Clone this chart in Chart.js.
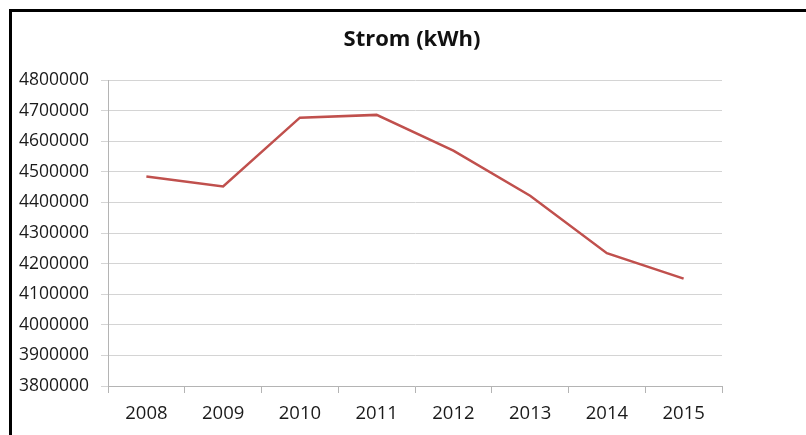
<!DOCTYPE html>
<html>
<head>
<meta charset="utf-8">
<script src="https://cdn.jsdelivr.net/npm/chart.js@4/dist/chart.umd.min.js"></script>
<style>
  html, body { margin: 0; padding: 0; background: #fff; }
  #wrap { position: relative; width: 806px; height: 435px; overflow: hidden; }
  #frame {
    position: absolute; left: 9px; top: 9px; width: 900px; height: 500px;
    border-top: 3px solid #000; border-left: 3px solid #000;
    pointer-events: none;
  }
</style>
</head>
<body>
<div id="wrap">
  <canvas id="chart" width="806" height="435"></canvas>
  <div id="frame"></div>
</div>
<script>
const years = ["2008", "2009", "2010", "2011", "2012", "2013", "2014", "2015"];
const strom = [4485000, 4452000, 4677000, 4686000, 4569000, 4422000, 4234000, 4151000];
const yMin = 3800000;
const yMax = 4800000;
const yStep = 100000;

const FONT = "'Open Sans', 'DejaVu Sans', sans-serif";

new Chart(document.getElementById("chart"), {
  type: "line",
  data: {
    labels: years,
    datasets: [{
      label: "Strom (kWh)",
      data: strom,
      borderColor: "#C0504D",
      backgroundColor: "#C0504D",
      borderWidth: 2.5,
      tension: 0,
      pointRadius: 0,
      fill: false,
    }],
  },
  options: {
    responsive: false,
    animation: false,
    devicePixelRatio: 1,
    layout: { padding: { left: 18, right: 0, top: 0, bottom: 0 } },
    plugins: {
      legend: { display: false },
      tooltip: { enabled: false },
      title: {
        display: true,
        text: "Strom (kWh)",
        color: "#111",
        font: { family: FONT, size: 22, weight: "bold" },
        padding: { top: 27, bottom: 26.6 },
      },
    },
    scales: {
      x: {
        offset: true,
        grid: {
          offset: true,
          drawOnChartArea: false,
          tickLength: 7,
          color: "#b4b4b4",
        },
        border: { display: true, color: "#b4b4b4" },
        ticks: {
          color: "#1a1a1a",
          padding: 10,
          maxRotation: 0,
          font: { family: FONT, size: 18.5 },
        },
        afterFit(scale) { scale.height = 49; },
      },
      y: {
        min: yMin,
        max: yMax,
        grid: { color: "#d4d4d4", tickLength: 7 },
        border: { display: true, color: "#b4b4b4" },
        ticks: {
          stepSize: yStep,
          color: "#1a1a1a",
          padding: 12,
          font: { family: FONT, size: 17.5 },
          callback: (v) => String(v),
        },
        afterFit(scale) { scale.width = 90; },
      },
      // empty axis that only reserves the right-hand margin
      y2: {
        position: "right",
        min: yMin,
        max: yMax,
        grid: { display: false },
        border: { display: false },
        ticks: { display: false },
        afterFit(scale) { scale.width = 84; },
      },
    },
  },
});
</script>
</body>
</html>
